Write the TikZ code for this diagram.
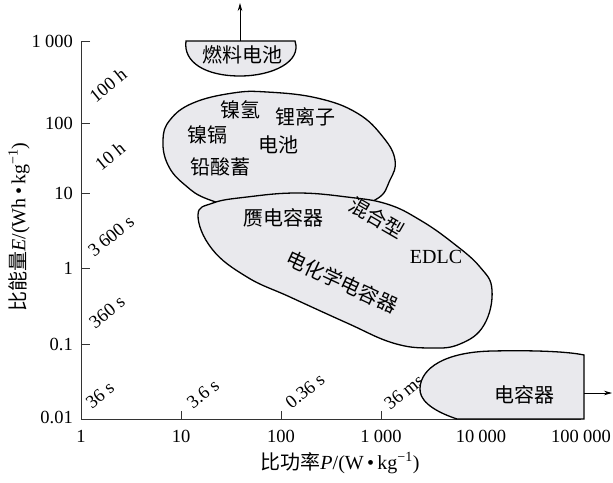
\documentclass[tikz,border=0pt]{standalone}
\usepackage{fontspec}
\setmainfont{Liberation Serif}
\newfontfamily\cjk{Noto Sans CJK SC}
\usetikzlibrary{arrows.meta}
\definecolor{regionfill}{RGB}{233,233,237}
\tikzset{
  region/.style={draw=black, line width=1.3pt, fill=regionfill},
  axisline/.style={draw=black!80, line width=0.8pt},
  ticklab/.style={font=\fontsize{18.5}{18.5}\selectfont, inner sep=0pt},
  titlelab/.style={font=\fontsize{20}{20}\selectfont, inner sep=0pt},
  timelab/.style={font=\fontsize{18.5}{18.5}\selectfont, inner sep=0pt, rotate=39},
  cjklab/.style={font=\cjk\fontsize{20}{20}\selectfont, inner sep=0pt},
  arrowline/.style={line width=0.8pt, -{Stealth[length=8pt,width=4.5pt]}},
}
\newcommand{\gsp}{\hspace{0.22em}}
\begin{document}
\begin{tikzpicture}[x=1pt,y=-1pt]
\useasboundingbox (0,0) rectangle (613,482);
\fill[white] (0,0) rectangle (613,482);

% axes
\draw[axisline] (90,41) -- (81,41) -- (81,419) -- (581,419);
\foreach \yy in {123,193,268,344} \draw[axisline] (81,\yy) -- (90,\yy);
\foreach \xx in {181,281,381,481} \draw[axisline] (\xx,419) -- (\xx,411);

% y tick labels
\node[ticklab, anchor=east] (y1000) at (73,41) {1\gsp000};
\node[ticklab, anchor=east] (y100) at (73,123) {100};
\node[ticklab, anchor=east] (y10) at (73,193) {10};
\node[ticklab, anchor=east] (y1) at (73,268) {1};
\node[ticklab, anchor=east] (y01) at (73,344) {0.1};
\node[ticklab, anchor=east] (y001) at (73,417) {0.01};

% x tick labels
\node[ticklab] (x1) at (81,436) {1};
\node[ticklab] (x10) at (181,436) {10};
\node[ticklab] (x100) at (281,436) {100};
\node[ticklab] (x1000) at (381,436) {1\gsp000};
\node[ticklab] (x10000) at (481,436) {10\gsp000};
\node[ticklab] (x100000) at (581,436) {100\gsp000};

% axis titles
\node[titlelab, rotate=90] (ytitle) at (19,227) {{\cjk 比能量}\textit{E}/(Wh\,•\,kg\textsuperscript{\char"2212 1})};
\node[titlelab] (xtitle) at (340,463) {{\cjk 比功率}\textit{P}/(W\,•\,kg\textsuperscript{\char"2212 1})};

% time labels
\node[timelab] (t100h) at (108,85) {100 h};
\node[timelab] (t10h) at (110,156) {10 h};
\node[timelab] (t3600) at (111,236) {3\gsp600 s};
\node[timelab] (t360) at (107,312) {360 s};
\node[timelab] (t36) at (100,395) {36 s};
\node[timelab] (t36b) at (203,394) {3.6 s};
\node[timelab] (t036) at (305,391) {0.36 s};
\node[timelab] (t36ms) at (404,392) {36 ms};

% battery region
\draw[region] plot[smooth cycle, tension=0.7] coordinates {
 (163,140) (170,120) (193,103) (233,93) (267,92) (317,98) (357,113) (383,137)
 (395,160) (390,180) (375,200) (330,212) (260,212) (210,200) (185,185) (168,165)};

% supercapacitor region
\draw[region] plot[smooth cycle, tension=0.7] coordinates {
 (198,215) (213,203) (247,197) (297,193) (347,197) (387,204) (420,220) (453,243)
 (480,267) (492,290) (484,325) (460,344) (430,348) (393,343) (347,323) (290,297)
 (247,277) (212,249)};

% fuel cell region
\draw[region] (186,41) -- (295,41) .. controls (302,62) and (272,76) .. (240,76)
  .. controls (205,76) and (183,62) .. (186,41) -- cycle;
\coordinate (fuelTop) at (240,41);
\coordinate (fuelArrow) at (240,3);
\draw[arrowline] (fuelTop) -- (fuelArrow);

% capacitor region
\draw[region] (584,355) -- (584,419) -- (457,419)
  .. controls (430,410) and (419,399) .. (420,388)
  .. controls (421,368) and (445,352) .. (492,351)
  .. controls (540,350) and (570,352) .. (584,355) -- cycle;
\coordinate (capRight) at (584,393);
\coordinate (capArrow) at (612,393);
\draw[arrowline] (capRight) -- (capArrow);

% region labels
\node[cjklab] (fuel) at (242,55) {燃料电池};
\node[cjklab] (nimh) at (240,110) {镍氢};
\node[cjklab] (liion) at (305,117) {锂离子};
\node[cjklab] (nicd) at (207,135) {镍镉};
\node[cjklab] (batt) at (278,145) {电池};
\node[cjklab] (lead) at (220,167) {铅酸蓄};
\node[cjklab] (pseudo) at (283,218) {赝电容器};
\node[cjklab, rotate=-30] (hybrid) at (377,218) {混合型};
\node[titlelab] (edlc) at (436,257) {EDLC};
\node[cjklab, rotate=-25] (echem) at (342,282) {电化学电容器};
\node[cjklab] (cap) at (524,395) {电容器};
\end{tikzpicture}
\end{document}
